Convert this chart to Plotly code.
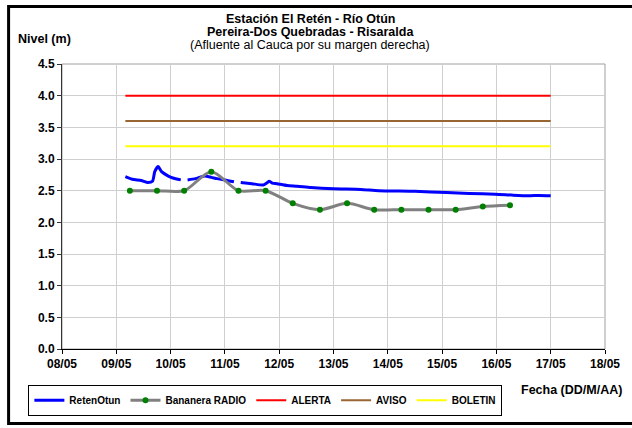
import plotly.graph_objects as go

# ---------------- data ----------------
reten_time = [
    "2011-05-09 04:00", "2011-05-09 07:00", "2011-05-09 11:00", "2011-05-09 14:00",
    "2011-05-09 16:00", "2011-05-09 17:00", "2011-05-09 18:30", "2011-05-09 20:00",
    "2011-05-09 23:00", "2011-05-10 01:00", "2011-05-10 04:30", "2011-05-10 06:00",
    "2011-05-10 07:30", "2011-05-10 11:00", "2011-05-10 15:00", "2011-05-10 18:00",
    "2011-05-10 20:30", "2011-05-11 00:00", "2011-05-11 04:00", "2011-05-11 05:30",
    "2011-05-11 07:00", "2011-05-11 12:00", "2011-05-11 17:00", "2011-05-11 18:30",
    "2011-05-11 19:30", "2011-05-11 21:00", "2011-05-11 23:00", "2011-05-12 03:30",
    "2011-05-12 08:00", "2011-05-12 14:00", "2011-05-13 00:00", "2011-05-13 12:00",
    "2011-05-13 20:00", "2011-05-14 12:00", "2011-05-15 02:00", "2011-05-15 12:00",
    "2011-05-15 23:30", "2011-05-16 07:00", "2011-05-16 14:00", "2011-05-16 19:00",
    "2011-05-17 00:00",
]
reten_level = [
    2.72, 2.68, 2.66, 2.63,
    2.65, 2.80, 2.88, 2.80,
    2.73, 2.70, 2.67, None,
    2.67, 2.69, 2.73, 2.71,
    2.69, 2.67, 2.64, None,
    2.63, 2.61, 2.59, 2.62,
    2.65, 2.62, 2.61, 2.58,
    2.57, 2.55, 2.53, 2.52,
    2.50, 2.49, 2.47, 2.455,
    2.445, 2.43, 2.42, 2.425,
    2.42,
]

radio_time = [
    "2011-05-09 06:00", "2011-05-09 18:00", "2011-05-10 06:00", "2011-05-10 18:00",
    "2011-05-11 06:00", "2011-05-11 18:00", "2011-05-12 06:00", "2011-05-12 18:00",
    "2011-05-13 06:00", "2011-05-13 18:00", "2011-05-14 06:00", "2011-05-14 18:00",
    "2011-05-15 06:00", "2011-05-15 18:00", "2011-05-16 06:00",
]
radio_level = [2.5, 2.5, 2.5, 2.8, 2.5, 2.5, 2.3, 2.2, 2.3, 2.2, 2.2, 2.2, 2.2, 2.25, 2.27]

threshold_time = ["2011-05-09 04:00", "2011-05-17 00:00"]
alerta = [4.0, 4.0]
aviso = [3.6, 3.6]
boletin = [3.2, 3.2]

x_ticks = ["2011-05-%02d" % d for d in range(8, 19)]
x_ticklabels = ["%02d/05" % d for d in range(8, 19)]
y_ticks = [0.0, 0.5, 1.0, 1.5, 2.0, 2.5, 3.0, 3.5, 4.0, 4.5]

# ---------------- layout geometry ----------------
W, H = 632, 428
L, R, T, B = 62, 21, 64, 77
PW, PH = W - L - R, H - T - B


def px_x(px):
    return (px - L) / PW


def px_y(py):
    return (H - B - py) / PH


FONT = "Arial, Liberation Sans, sans-serif"

fig = go.Figure()
fig.add_trace(go.Scatter(x=reten_time, y=reten_level, name="RetenOtun", mode="lines",
                         line=dict(color="#0000FF", width=3, shape="spline", smoothing=0.6),
                         connectgaps=False))
fig.add_trace(go.Scatter(x=radio_time, y=radio_level, name="Bananera RADIO", mode="lines+markers",
                         line=dict(color="#808080", width=3, shape="spline", smoothing=0.8),
                         marker=dict(color="#008000", size=6)))
fig.add_trace(go.Scatter(x=threshold_time, y=alerta, name="ALERTA", mode="lines",
                         line=dict(color="#FF0000", width=2)))
fig.add_trace(go.Scatter(x=threshold_time, y=aviso, name="AVISO", mode="lines",
                         line=dict(color="#996633", width=2)))
fig.add_trace(go.Scatter(x=threshold_time, y=boletin, name="BOLETIN", mode="lines",
                         line=dict(color="#FFFF00", width=2)))

fig.update_layout(
    width=W, height=H,
    margin=dict(l=L, r=R, t=T, b=B, pad=0),
    paper_bgcolor="white", plot_bgcolor="white",
    font=dict(family=FONT, size=12, color="black"),
    showlegend=True,
    legend=dict(orientation="h", x=px_x(28), y=px_y(387), xanchor="left", yanchor="top",
                bordercolor="black", borderwidth=1, bgcolor="white",
                font=dict(family=FONT, size=10, weight="bold"),
                itemwidth=30, tracegroupgap=0),
    xaxis=dict(type="date", range=["2011-05-08", "2011-05-18"],
               tickmode="array", tickvals=x_ticks, ticktext=x_ticklabels,
               showgrid=True, gridcolor="#CFCFCF", gridwidth=1,
               showline=True, linecolor="black", linewidth=1,
               ticks="outside", ticklen=4, tickcolor="black",
               tickfont=dict(family=FONT, size=12, weight="bold"), zeroline=False),
    yaxis=dict(range=[0, 4.5], tickmode="array", tickvals=y_ticks,
               ticktext=["%.1f" % v for v in y_ticks],
               showgrid=True, gridcolor="#CFCFCF", gridwidth=1,
               showline=True, linecolor="#333333", linewidth=1,
               ticks="outside", ticklen=4, tickcolor="#333333",
               tickfont=dict(family=FONT, size=12, weight="bold"), zeroline=False),
    shapes=[
        dict(type="rect", xref="paper", yref="paper", x0=0, x1=1, y0=0, y1=1,
             line=dict(color="#A0A0A0", width=1), layer="below"),
        dict(type="rect", xref="paper", yref="paper",
             x0=px_x(8), x1=px_x(700), y0=px_y(426), y1=px_y(6),
             line=dict(color="black", width=3)),
    ],
    annotations=[
        dict(text="<b>Estación El Retén - Río Otún</b>", xref="paper", yref="paper",
             x=px_x(313), y=px_y(19), showarrow=False, font=dict(size=12.5),
             xanchor="center", yanchor="middle"),
        dict(text="<b>Pereira-Dos Quebradas - Risaralda</b>", xref="paper", yref="paper",
             x=px_x(313), y=px_y(32), showarrow=False, font=dict(size=12.5),
             xanchor="center", yanchor="middle"),
        dict(text="(Afluente al Cauca por su margen derecha)", xref="paper", yref="paper",
             x=px_x(313), y=px_y(45), showarrow=False, font=dict(size=12.5),
             xanchor="center", yanchor="middle"),
        dict(text="<b>Nivel (m)</b>", xref="paper", yref="paper",
             x=px_x(15), y=px_y(39), showarrow=False, font=dict(size=12.5),
             xanchor="left", yanchor="middle"),
        dict(text="<b>Fecha (DD/M/AA)</b>", xref="paper", yref="paper",
             x=px_x(630), y=px_y(392), showarrow=False, font=dict(size=12.5),
             xanchor="right", yanchor="middle"),
    ],
)

fig.write_html("out.html", config={"displayModeBar": False},
               post_script="document.body.style.margin='0px';")
